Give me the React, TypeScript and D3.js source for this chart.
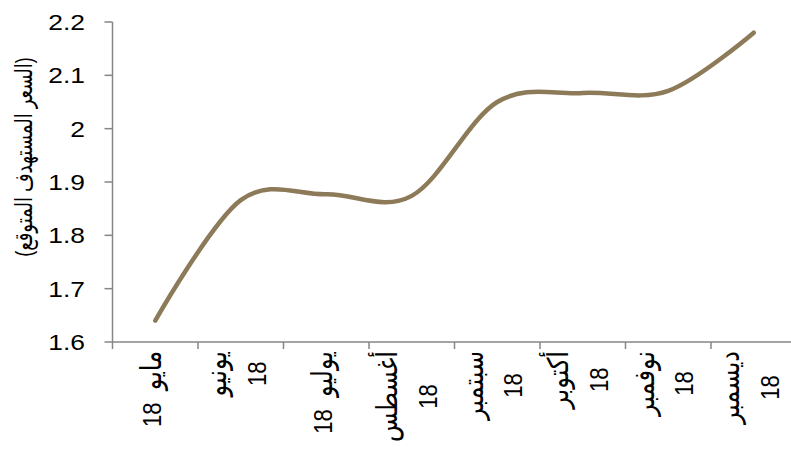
import React, { useEffect, useRef } from "react";
import * as d3 from "d3";

const months = ["مايو", "يونيو", "يوليو", "أغسطس", "سبتمبر", "أكتوبر", "نوفمبر", "ديسمبر"];
const years = ["18", "18", "18", "18", "18", "18", "18", "18"];
const wrapped = [false, true, false, true, true, true, true, true];
const values = [1.64, 1.866, 1.877, 1.874, 2.05, 2.067, 2.071, 2.18];
const yTicks = [1.6, 1.7, 1.8, 1.9, 2.0, 2.1, 2.2];
const yTickLabels = ["1.6", "1.7", "1.8", "1.9", "2", "2.1", "2.2"];
const yTitle = "(السعر المستهدف المتوقع)";

const W = 791;
const H = 450;
const FONT = "'Liberation Sans', Arial, 'DejaVu Sans', sans-serif";
const STRETCH = 1.2;

export default function App() {
  const ref = useRef<SVGSVGElement | null>(null);

  useEffect(() => {
    const svg = d3.select(ref.current);
    svg.selectAll("*").remove();

    const left = 112.5;
    const band = 85.5;
    const idx = values.map((_, i) => i);
    const x = d3.scaleBand<number>().domain(idx).range([left, left + band * idx.length]);
    const y = d3.scaleLinear().domain([1.6, 2.2]).range([342, 22]);
    const axisColor = "#868686";

    svg.append("line")
      .attr("x1", left).attr("x2", left)
      .attr("y1", y(2.2)).attr("y2", y(1.6) + 7)
      .attr("stroke", axisColor).attr("stroke-width", 1.5);
    yTicks.forEach((t, i) => {
      svg.append("line")
        .attr("x1", left - 8).attr("x2", left)
        .attr("y1", y(t)).attr("y2", y(t))
        .attr("stroke", axisColor).attr("stroke-width", 1.5);
      svg.append("text")
        .attr("transform", `translate(85,${y(t)}) scale(${STRETCH},1)`)
        .attr("text-anchor", "end")
        .attr("dy", "0.36em")
        .attr("font-family", FONT)
        .attr("font-size", 22)
        .attr("fill", "#000")
        .text(yTickLabels[i]);
    });

    svg.append("line")
      .attr("x1", left).attr("x2", W)
      .attr("y1", y(1.6)).attr("y2", y(1.6))
      .attr("stroke", axisColor).attr("stroke-width", 1.5);
    idx.forEach((i) => {
      const xs = x(i) as number;
      if (i > 0) {
        svg.append("line")
          .attr("x1", xs).attr("x2", xs)
          .attr("y1", y(1.6)).attr("y2", y(1.6) + 7)
          .attr("stroke", axisColor).attr("stroke-width", 1.5);
      }
    });

    const arSize = 24;
    const numSize = 22;
    idx.forEach((i) => {
      const cx = (x(i) as number) + x.bandwidth() / 2;
      const g = svg.append("g")
        .attr("transform", `translate(${cx},351) scale(${STRETCH},1) rotate(-90)`);
      const texts: any[] = [];
      const mk = (ly: number) =>
        g.append("text")
          .attr("font-family", FONT)
          .attr("fill", "#000")
          .attr("text-anchor", "middle")
          .attr("y", ly);
      if (wrapped[i]) {
        const t1 = mk(-12).attr("font-size", arSize).text(months[i]);
        const t2 = mk(21).attr("font-size", numSize).text(years[i]);
        texts.push(t1, t2);
      } else {
        const t = mk(5).attr("font-size", numSize);
        t.append("tspan").attr("font-size", arSize).text(months[i]);
        t.append("tspan").text("\u00a0\u00a0" + years[i]);
        texts.push(t);
      }
      let maxL = 0;
      texts.forEach((t) => {
        const node = t.node() as SVGTextElement;
        maxL = Math.max(maxL, node.getComputedTextLength());
      });
      texts.forEach((t) => t.attr("x", -maxL / 2));
    });

    svg.append("text")
      .attr("transform", `translate(23,157) scale(1.35,1) rotate(-90)`)
      .attr("text-anchor", "middle")
      .attr("dy", "0.36em")
      .attr("font-family", FONT)
      .attr("font-size", 18)
      .attr("fill", "#000")
      .text(yTitle);

    const line = d3.line<number>()
      .x((_, i) => (x(i) as number) + x.bandwidth() / 2)
      .y((v) => y(v))
      .curve(d3.curveCardinal.tension(0));
    svg.append("path")
      .datum(values)
      .attr("d", line)
      .attr("fill", "none")
      .attr("stroke", "#8d7a58")
      .attr("stroke-width", 4.5)
      .attr("stroke-linecap", "round");
  }, []);

  return (
    <svg
      ref={ref}
      width={W}
      height={H}
      style={{ position: "absolute", left: 0, top: 0, background: "#fff" }}
    />
  );
}
